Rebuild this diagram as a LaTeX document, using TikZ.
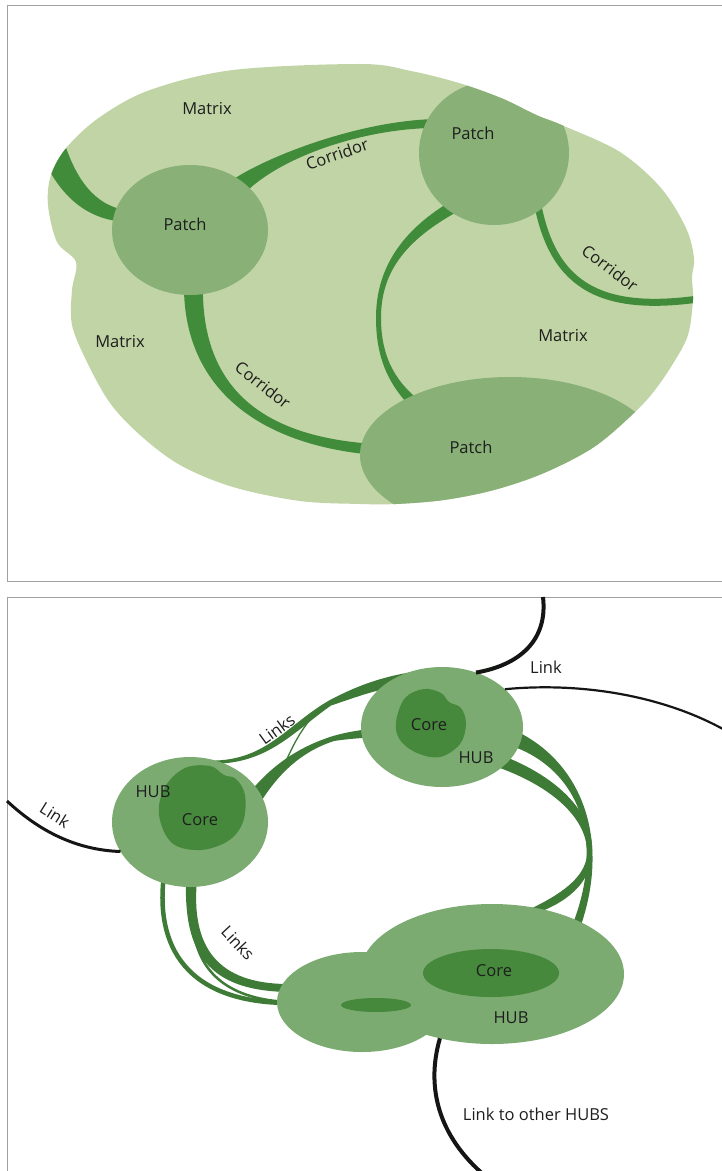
\documentclass[tikz,border=0pt]{standalone}
\usepackage{fontspec}
\setmainfont{Open Sans}
\usetikzlibrary{shapes.geometric}
\definecolor{matrixc}{RGB}{193,212,165}
\definecolor{patchc}{RGB}{136,176,119}
\definecolor{corrc}{RGB}{64,140,58}
\definecolor{hubc}{RGB}{123,171,113}
\definecolor{corec}{RGB}{70,137,60}
\definecolor{strandc}{RGB}{62,123,54}
\definecolor{linkc}{RGB}{20,22,20}
\definecolor{framec}{RGB}{160,160,160}
\definecolor{textc}{RGB}{30,30,30}
\begin{document}
\begin{tikzpicture}[x=1pt,y=-1pt,
  lbl/.style={text=textc, font=\fontsize{16.5}{19}\selectfont, inner sep=0pt},
  blob/.style={shape=ellipse, inner sep=0pt, outer sep=0pt, draw=none},
  patchnode/.style={blob, fill=patchc},
  hubnode/.style={blob, fill=hubc},
  corenode/.style={blob, fill=corec},
  corr/.style={fill=corrc},
  strand/.style={fill=strandc},
  linkline/.style={draw=linkc},
  panelframe/.style={draw=framec, line width=1pt}
]
\useasboundingbox (0,0) rectangle (722,1171);
\clip (0,0) rectangle (722,1171);
\fill[white] (0,0) rectangle (722,1171);
\draw[panelframe] (7,5) rectangle (740,581);
\draw[panelframe] (7,597) rectangle (740,1200);

% ---------- top panel: matrix ----------
\fill[matrixc] plot[smooth cycle, tension=0.55] coordinates {(361,64) (411,71) (459,83) (501,98) (528,111) (541,117) (564,126) (620,152) (661,188) (686,228) (694,258) (692,277) (693,300) (688,335) (674,362) (655,390) (634,413) (594,447) (544,473) (494,490) (444,500) (396,504) (361,504) (300,501) (233,487) (180,465) (140,435) (110,403) (87,362) (72,325) (72,290) (76,262) (57,242) (48,205) (51,175) (67,147) (100,117) (150,90) (233,70)};

\begin{scope}
\clip plot[smooth cycle, tension=0.55] coordinates {(361,64) (411,71) (459,83) (501,98) (528,111) (541,117) (564,126) (620,152) (661,188) (686,228) (694,258) (692,277) (693,300) (688,335) (674,362) (655,390) (634,413) (594,447) (544,473) (494,490) (444,500) (396,504) (361,504) (300,501) (233,487) (180,465) (140,435) (110,403) (87,362) (72,325) (72,290) (76,262) (57,242) (48,205) (51,175) (67,147) (100,117) (150,90) (233,70)};
% corridors
\fill[corr] (232,180) .. controls (277,151) and (370,119) .. (440,119) -- (440,128) .. controls (372,127) and (288,153) .. (248,190) -- cycle;
\fill[corr] (62,135) .. controls (75,180) and (95,205) .. (125,210) -- (125,222) .. controls (95,220) and (65,205) .. (44,160) -- cycle;
\fill[corr] (184,282) .. controls (182,385) and (255,445) .. (375,455) -- (375,444) .. controls (262,437) and (200,388) .. (203,282) -- cycle;
\fill[corr] (462,195) .. controls (400,228) and (376,270) .. (376,318) .. controls (376,360) and (390,388) .. (416,412) -- (424,404) .. controls (398,385) and (381,360) .. (381,318) .. controls (381,272) and (405,238) .. (468,206) -- cycle;
\draw[corrc, line width=7pt] (536,195) .. controls (550,282) and (595,315) .. (705,298);
% patches clipped by the matrix
\node[patchnode, minimum width=150pt, minimum height=144pt] (tp) at (494,153) {};
\node[patchnode, minimum width=300pt, minimum height=156pt] (bp) at (510,455) {};
\end{scope}
\node[patchnode, minimum width=156pt, minimum height=130pt] (lp) at (190,230) {};

% labels top
\node[lbl] (m1) at (207,109) {Matrix};
\node[lbl] (m2) at (120,342) {Matrix};
\node[lbl] (m3) at (563,336) {Matrix};
\node[lbl] (p1) at (185,224) {Patch};
\node[lbl] (p2) at (473,133) {Patch};
\node[lbl] (p3) at (471,447) {Patch};
\node[lbl, rotate=19] (c1) at (337,154) {Corridor};
\node[lbl, rotate=-38] (c2) at (263,385) {Corridor};
\node[lbl, rotate=-37] (c3) at (610,268) {Corridor};

% ---------- bottom panel ----------
% green link strands
\fill[strand] (205,760.5) .. controls (265,763) and (284,727) .. (329,700.5) .. controls (353,688) and (376,678) .. (412,672) -- (414,684) .. controls (378,688) and (357,697) .. (331,705.5) .. controls (292,733) and (265,767) .. (205,763.5) -- cycle;
\fill[strand] (250,792) .. controls (270,768) and (295,748) .. (333,736) .. controls (347,732) and (360,730) .. (378,728) -- (378,737) .. controls (360,738) and (347,739) .. (334,741) .. controls (300,752) and (278,775) .. (262,800) -- cycle;
\draw[strandc, line width=1.3pt] (286,761) .. controls (292,748) and (298,735) .. (309,721);
\fill[strand] (520,733) .. controls (582,765) and (611,840) .. (580,928) -- (572,926) .. controls (606,840) and (579,770) .. (512,746) -- cycle;
\fill[strand] (506,757) .. controls (565,781) and (595,818) .. (592,855) .. controls (590,884) and (566,903) .. (534,914) -- (528,910) .. controls (560,895) and (585,878) .. (587,855) .. controls (589,822) and (557,789) .. (500,768) -- cycle;
\draw[strandc, line width=4.5pt] (164,875) .. controls (155,945) and (185,1003) .. (290,1003);
\fill[strand] (186,880) .. controls (184,950) and (205,992) .. (292,992) -- (292,984) .. controls (225,985) and (190,955) .. (197,880) -- cycle;
\draw[strandc, line width=2.5pt] (193,925) .. controls (197,975) and (232,1000) .. (290,1002);

% hubs
\node[hubnode, minimum width=156pt, minimum height=130pt] (lh) at (190,822) {};
\node[hubnode, minimum width=162pt, minimum height=120pt] (th) at (442,727) {};
\node[hubnode, minimum width=170pt, minimum height=100pt] (bhl) at (362,1002) {};
\node[hubnode, minimum width=264pt, minimum height=140pt] (bhr) at (492,974) {};

% cores
\fill[corec] plot[smooth cycle, tension=0.6] coordinates {(159,815) (165,787) (185,768) (210,766) (224,775) (236,779) (245,795) (243,822) (228,841) (200,850) (172,843)};
\fill[corec] plot[smooth cycle, tension=0.6] coordinates {(396,722) (405,698) (424,689) (441,693) (449,702) (461,708) (466,724) (460,744) (440,757) (417,753) (400,740)};
\node[corenode, minimum width=136pt, minimum height=48pt] (bc) at (491,973) {};
\node[corenode, minimum width=70pt, minimum height=14pt] (bs) at (376,1005) {};

% black links
\draw[linkline, line width=3pt] (7,801) .. controls (38,830) and (75,850) .. (lh.203);
\draw[linkline, line width=4pt] (543,597) .. controls (548,640) and (520,665) .. (th.58);
\draw[linkline, line width=2.2pt] (th.31) .. controls (580,682) and (665,695) .. (730,733);
\draw[linkline, line width=4pt] (bhr.231) .. controls (425,1090) and (440,1140) .. (490,1180);

% labels bottom
\node[lbl, rotate=-32] (k1) at (55,815) {Link};
\node[lbl] (h1) at (153,792) {HUB};
\node[lbl] (r1) at (200,820) {Core};
\node[lbl, rotate=36] (s1) at (277,729) {Links};
\node[lbl] (r2) at (429,725) {Core};
\node[lbl] (h2) at (476,758) {HUB};
\node[lbl] (k2) at (546,667) {Link};
\node[lbl, rotate=-47] (s2) at (238,943) {Links};
\node[lbl] (r3) at (494,971) {Core};
\node[lbl] (h3) at (511,1018) {HUB};
\node[lbl] (k3) at (536,1114) {Link to other HUBS};
\end{tikzpicture}
\end{document}
